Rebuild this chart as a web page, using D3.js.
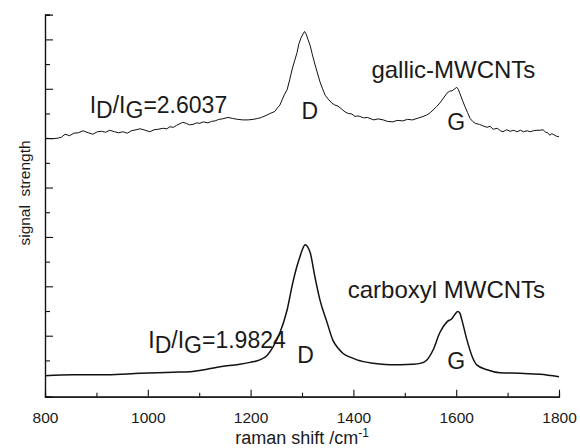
<!DOCTYPE html>
<html>
<head>
<meta charset="utf-8">
<script src="https://cdn.jsdelivr.net/npm/d3@7"></script>
<style>
  body { margin: 0; background: #fff; }
  svg { display: block; font-family: "Liberation Sans", Arial, sans-serif; }
  text { fill: #1a1a1a; }
</style>
</head>
<body>
<script>
const width = 580;
const height = 448;

// raman shift (cm-1) and signal (a.u., offset stacked)
const gallicShift = [800, 815, 825, 832, 839, 848, 856, 865, 874, 884, 893, 902, 910, 918, 926, 935, 943, 952, 960, 968, 977, 985, 995, 1004, 1012, 1020, 1030, 1037, 1043, 1050, 1056, 1062, 1068, 1075, 1081, 1088, 1095, 1101, 1108, 1117, 1124, 1131, 1138, 1145, 1156, 1165, 1175, 1185, 1195, 1205, 1214, 1221, 1228, 1238, 1247, 1252, 1257, 1262, 1266, 1271, 1276, 1281, 1286, 1290, 1294, 1298, 1302, 1305, 1308, 1312, 1316, 1320, 1325, 1330, 1335, 1340, 1345, 1351, 1358, 1364, 1370, 1377, 1384, 1390, 1397, 1403, 1408, 1413, 1420, 1427, 1432, 1440, 1448, 1458, 1466, 1477, 1485, 1496, 1505, 1515, 1524, 1533, 1543, 1550, 1555, 1562, 1568, 1575, 1582, 1587, 1592, 1596, 1601, 1604, 1607, 1612, 1617, 1622, 1627, 1632, 1637, 1645, 1652, 1660, 1666, 1672, 1680, 1686, 1691, 1698, 1705, 1712, 1718, 1725, 1731, 1738, 1744, 1750, 1757, 1763, 1769, 1774, 1778, 1782, 1786, 1790, 1795, 1800];
const gallicSignal = [5.00, 4.99, 5.00, 5.02, 5.08, 5.05, 5.10, 5.11, 5.15, 5.11, 5.08, 5.13, 5.14, 5.12, 5.16, 5.13, 5.11, 5.13, 5.10, 5.15, 5.17, 5.19, 5.16, 5.13, 5.17, 5.18, 5.20, 5.19, 5.23, 5.22, 5.26, 5.29, 5.32, 5.30, 5.27, 5.28, 5.31, 5.30, 5.33, 5.31, 5.34, 5.35, 5.38, 5.39, 5.42, 5.40, 5.38, 5.37, 5.37, 5.38, 5.40, 5.42, 5.45, 5.50, 5.54, 5.61, 5.67, 5.79, 5.89, 5.98, 6.18, 6.40, 6.58, 6.72, 6.91, 7.03, 7.11, 7.16, 7.11, 6.99, 6.87, 6.70, 6.50, 6.32, 6.14, 6.00, 5.87, 5.79, 5.71, 5.67, 5.65, 5.59, 5.53, 5.50, 5.49, 5.44, 5.45, 5.44, 5.41, 5.42, 5.40, 5.37, 5.39, 5.37, 5.34, 5.33, 5.36, 5.35, 5.38, 5.37, 5.40, 5.43, 5.47, 5.52, 5.57, 5.64, 5.71, 5.81, 5.91, 5.95, 5.96, 5.99, 6.03, 5.99, 5.91, 5.77, 5.64, 5.52, 5.40, 5.34, 5.30, 5.28, 5.25, 5.22, 5.24, 5.18, 5.20, 5.15, 5.13, 5.17, 5.14, 5.16, 5.13, 5.16, 5.13, 5.15, 5.13, 5.15, 5.16, 5.16, 5.17, 5.12, 5.11, 5.06, 5.09, 5.07, 5.04, 5.03];

const carboxylShift = [800, 854, 921, 985, 1049, 1082, 1115, 1135, 1154, 1179, 1199, 1218, 1232, 1244, 1257, 1271, 1282, 1290, 1296, 1301, 1306, 1311, 1316, 1325, 1335, 1349, 1360, 1370, 1380, 1395, 1407, 1438, 1471, 1491, 1515, 1530, 1543, 1555, 1568, 1582, 1592, 1598, 1603, 1607, 1611, 1621, 1631, 1640, 1660, 1685, 1724, 1763, 1800];
const carboxylSignal = [0.19, 0.21, 0.21, 0.24, 0.26, 0.27, 0.32, 0.36, 0.39, 0.42, 0.46, 0.51, 0.60, 0.78, 1.06, 1.52, 2.07, 2.40, 2.60, 2.75, 2.84, 2.80, 2.68, 2.20, 1.72, 1.26, 0.91, 0.75, 0.64, 0.56, 0.51, 0.44, 0.41, 0.41, 0.42, 0.44, 0.51, 0.71, 1.06, 1.28, 1.35, 1.44, 1.49, 1.46, 1.32, 0.91, 0.58, 0.41, 0.31, 0.25, 0.24, 0.22, 0.17];

const xMajorTicks = [800, 1000, 1200, 1400, 1600, 1800];
const xMinorTicks = [900, 1100, 1300, 1500, 1700];
const yMajorTicks = [1, 2, 3, 4, 5, 6, 7];
const yMinorTicks = [0.5, 1.5, 2.5, 3.5, 4.5, 5.5, 6.5, 7.5];

const margin = { top: 14.7, right: 21, bottom: 51.3, left: 45 };

let svg = d3
  .select("body")
  .append("svg")
  .attr("width", width)
  .attr("height", height);

let xScale = d3
  .scaleLinear()
  .domain([800, 1800])
  .range([margin.left, width - margin.right]);

let yScale = d3
  .scaleLinear()
  .domain([-0.235, 7.5])
  .range([height - margin.bottom, margin.top]);

// axes, ticks point into the plot
let bottom = svg
  .append("g")
  .attr("transform", `translate(0, ${height - margin.bottom})`);

bottom.call(
  d3.axisBottom(xScale).tickValues(xMinorTicks).tickSize(-4).tickFormat("")
);
bottom
  .append("g")
  .call(
    d3
      .axisBottom(xScale)
      .tickValues(xMajorTicks)
      .tickSizeInner(-7)
      .tickSizeOuter(0)
      .tickPadding(15)
      .tickFormat(d3.format("d"))
  );

let left = svg.append("g").attr("transform", `translate(${margin.left}, 0)`);
left.call(
  d3.axisLeft(yScale).tickValues(yMinorTicks).tickSize(-5).tickFormat("")
);
left.call((g) =>
  g
    .append("g")
    .call(
      d3.axisLeft(yScale).tickValues(yMajorTicks).tickSize(-8).tickFormat("")
    )
);

svg.selectAll(".domain").attr("stroke", "#111").attr("stroke-width", 1.2);
svg.selectAll(".tick line").attr("stroke", "#111").attr("stroke-width", 1.1);
svg
  .selectAll(".tick text")
  .style("font-size", "15.5px")
  .style("font-family", "Liberation Sans, Arial, sans-serif")
  .attr("fill", "#1a1a1a");

// axis titles
let xTitle = svg
  .append("text")
  .attr("x", (margin.left + width - margin.right) / 2)
  .attr("y", 444)
  .attr("text-anchor", "middle")
  .style("font-size", "18px");
xTitle.append("tspan").text("raman shift /cm");
xTitle
  .append("tspan")
  .text("-1")
  .attr("dy", -7)
  .style("font-size", "12px");

svg
  .append("text")
  .text("signal  strength")
  .style("font-size", "15.5px")
  .style("white-space", "pre")
  .attr("text-anchor", "middle")
  .attr("transform", "translate(29.5, 193) rotate(270)");

// spectra
let line = d3
  .line()
  .x((d) => xScale(d[0]))
  .y((d) => yScale(d[1]));

svg
  .append("path")
  .datum(d3.zip(gallicShift, gallicSignal))
  .attr("fill", "none")
  .attr("stroke", "#111")
  .attr("stroke-width", 1)
  .attr("stroke-linejoin", "round")
  .attr("d", line);

svg
  .append("path")
  .datum(d3.zip(carboxylShift, carboxylSignal))
  .attr("fill", "none")
  .attr("stroke", "#111")
  .attr("stroke-width", 1.5)
  .attr("stroke-linejoin", "round")
  .attr("d", line.curve(d3.curveMonotoneX));

// annotations
const labelSize = "23px";
const nameSize = "24px";

function ratio(x, y, value) {
  let t = svg
    .append("text")
    .attr("x", xScale(x))
    .attr("y", yScale(y))
    .style("font-size", labelSize);
  t.append("tspan").text("I");
  t.append("tspan").text("D").attr("dy", 5);
  t.append("tspan").text("/I").attr("dy", -5);
  t.append("tspan").text("G").attr("dy", 5);
  t.append("tspan").text("=" + value).attr("dy", -5);
}

ratio(887, 5.51, "2.6037");
ratio(1001, 0.75, "1.9824");

const peakLabels = [
  { text: "D", x: 1315, y: 5.39 },
  { text: "G", x: 1600, y: 5.17 },
  { text: "D", x: 1307, y: 0.45 },
  { text: "G", x: 1600, y: 0.33 },
];

svg
  .selectAll(".peak")
  .data(peakLabels)
  .join("text")
  .attr("class", "peak")
  .attr("x", (d) => xScale(d.x))
  .attr("y", (d) => yScale(d.y))
  .attr("text-anchor", "middle")
  .style("font-size", labelSize)
  .text((d) => d.text);

svg
  .append("text")
  .attr("x", xScale(1435))
  .attr("y", yScale(6.22))
  .style("font-size", nameSize)
  .text("gallic-MWCNTs");

svg
  .append("text")
  .attr("x", xScale(1389))
  .attr("y", yScale(1.76))
  .style("font-size", nameSize)
  .text("carboxyl MWCNTs");
</script>
</body>
</html>
